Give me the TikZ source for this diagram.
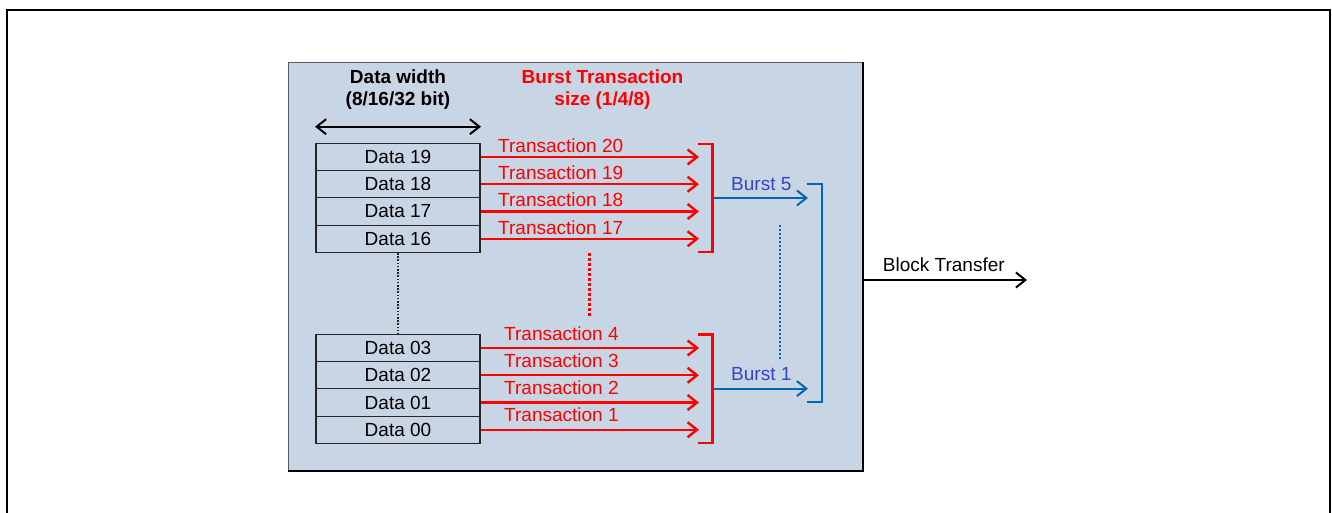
\documentclass[tikz,border=0pt]{standalone}
\usepackage{fontspec}
\setmainfont{Liberation Sans}
\usetikzlibrary{arrows.meta}
\definecolor{boxfill}{RGB}{200,213,228}
\definecolor{boxedge}{RGB}{90,90,100}
\definecolor{lineblue}{RGB}{0,102,178}
\definecolor{textblue}{RGB}{51,68,204}
\definecolor{tred}{RGB}{255,0,0}
\begin{document}
\begin{tikzpicture}[x=1pt,y=-1pt,
  font=\fontsize{19}{22}\selectfont,
  tip/.style={-{Straight Barb[length=9.5pt,width=15pt]}},
  datarow/.style={draw=black!85, line width=1.1pt, minimum width=164pt, minimum height=27.25pt, inner sep=0pt},
  redarr/.style={tred, line width=2.4pt, tip},
  redline/.style={tred, line width=2.4pt},
  bluearr/.style={lineblue, line width=2pt, tip},
  blueline/.style={lineblue, line width=2pt},
  redlab/.style={text=tred, anchor=base west, inner sep=0pt},
  bluelab/.style={text=textblue, anchor=base west, inner sep=0pt},
  plainlab/.style={anchor=base, inner sep=0pt}
]
\useasboundingbox (0,0) rectangle (1332,513);
% outer frame
\draw[line width=2.5pt] (7,520) -- (7,10) -- (1330,10) -- (1330,520);
% blue panel
\node[draw=boxedge, line width=1.2pt, fill=boxfill, minimum width=574pt, minimum height=408pt, inner sep=0pt, anchor=north west] (blk) at (288,62) {};
\draw[black, line width=1.6pt] (blk.north east) -- (blk.south east) -- (blk.south west);

% headers
\node[plainlab, font=\fontsize{19}{22}\selectfont\bfseries] (dw1) at (398,83.3) {Data width};
\node[plainlab, font=\fontsize{19}{22}\selectfont\bfseries] (dw2) at (398,106) {(8/16/32 bit)};
\node[plainlab, text=tred, font=\fontsize{19}{22}\selectfont\bfseries] (bt1) at (602.5,83.3) {Burst Transaction};
\node[plainlab, text=tred, font=\fontsize{19}{22}\selectfont\bfseries] (bt2) at (602.5,106) {size (1/4/8)};
\coordinate (wl) at (315,126.7);
\coordinate (wr) at (481,126.7);
\draw[black, line width=2pt, {Straight Barb[length=9.5pt,width=15pt]}-{Straight Barb[length=9.5pt,width=15pt]}] (wl) -- (wr);

% data rows
\node[datarow] (d19) at (398,157) {Data 19};
\node[datarow] (d18) at (398,184.25) {Data 18};
\node[datarow] (d17) at (398,211.5) {Data 17};
\node[datarow] (d16) at (398,238.75) {Data 16};
\node[datarow] (d03) at (398,348) {Data 03};
\node[datarow] (d02) at (398,375.25) {Data 02};
\node[datarow] (d01) at (398,402.5) {Data 01};
\node[datarow] (d00) at (398,429.75) {Data 00};
\draw[black!85, line width=1.4pt, dash pattern=on 1.6pt off 1.6pt] (d16.south) -- (d03.north);

% transaction arrows
\coordinate (tx) at (699,0);
\foreach \n in {d19,d18,d17,d16,d03,d02,d01,d00}{
  \draw[redarr] (\n.east) -- (\n.east -| tx);
}
\node[redlab] (t20) at (498,152.3) {Transaction 20};
\node[redlab] (t19) at (498,179.4) {Transaction 19};
\node[redlab] (t18) at (498,206.8) {Transaction 18};
\node[redlab] (t17) at (498,234.1) {Transaction 17};
\node[redlab] (t4) at (504,340) {Transaction 4};
\node[redlab] (t3) at (504,367) {Transaction 3};
\node[redlab] (t2) at (504,394.2) {Transaction 2};
\node[redlab] (t1) at (504,421.5) {Transaction 1};
\draw[tred, line width=2.4pt, dash pattern=on 3pt off 2pt] (589.3,253) -- (589.3,317);

% red brackets
\coordinate (rb5t) at (698,144);
\coordinate (rb5b) at (698,252);
\coordinate (rb1t) at (698,334.3);
\coordinate (rb1b) at (698,443);
\draw[redline] (rb5t) -| (712.5,252) -- (rb5b);
\draw[redline] (rb1t) -| (712.5,443) -- (rb1b);

% burst arrows
\coordinate (b5s) at (712.5,198);
\coordinate (b5e) at (808,198);
\coordinate (b1s) at (712.5,388.6);
\coordinate (b1e) at (808,388.6);
\draw[bluearr] (b5s) -- (b5e);
\draw[bluearr] (b1s) -- (b1e);
\node[bluelab] (bu5) at (731,190) {Burst 5};
\node[bluelab] (bu1) at (731,380.7) {Burst 1};
\draw[lineblue, line width=2pt, dash pattern=on 2pt off 2pt] (780,225) -- (780,359);

% blue bracket
\coordinate (bbt) at (806.7,184);
\coordinate (bbb) at (806.7,402.3);
\draw[blueline] (bbt) -| (821.7,402.3) -- (bbb);

% block transfer
\coordinate (bts) at (blk.east |- 0,280);
\coordinate (bte) at (1027,280);
\draw[black, line width=2pt, tip] (bts) -- (bte);
\node[anchor=base west, inner sep=0pt] (btl) at (882.7,271.7) {Block Transfer};
\end{tikzpicture}
\end{document}
